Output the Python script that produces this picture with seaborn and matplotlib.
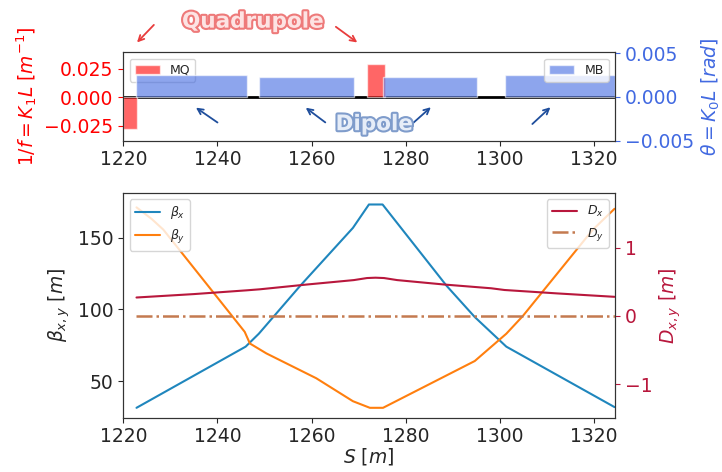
import numpy as np
import pandas as pd
import matplotlib
matplotlib.use('Agg')
import matplotlib.pyplot as plt
import matplotlib.patheffects as pe
import seaborn as sns

# magnets: start, end, strength
mq_start = [1220.0, 1271.8]
mq_end = [1223.0, 1275.6]
mq_k1l = [-0.028, 0.0294]

mb_start = [1222.6, 1248.9, 1275.2, 1301.2]
mb_end = [1246.2, 1269.0, 1295.2, 1324.4]
mb_k0l = [0.00253, 0.00223, 0.00223, 0.00253]

# twiss functions
s_bx = [1222.8, 1246.0, 1248.8, 1257.6, 1268.8, 1272.2, 1275.1, 1288.7, 1294.7, 1301.4, 1324.4]
betx = [31.4, 74.0, 83.0, 116.4, 156.7, 173.0, 173.0, 116.4, 94.6, 74.0, 31.9]

s_by = [1222.8, 1226.0, 1228.5, 1239.1, 1245.8, 1246.9, 1250.4, 1261.0, 1268.8, 1272.4, 1275.2,
        1294.7, 1301.4, 1304.9, 1319.8, 1324.4]
bety = [171.0, 163.0, 155.5, 111.9, 84.3, 76.2, 69.3, 52.0, 36.0, 31.4, 31.4,
        64.0, 83.0, 95.3, 155.5, 170.0]

s_d = [1222.8, 1235.0, 1246.2, 1249.0, 1259.0, 1269.0, 1271.8, 1273.6, 1275.4, 1278.2,
       1288.2, 1298.2, 1301.0, 1312.2, 1324.4]
dx = [0.27, 0.32, 0.375, 0.39, 0.46, 0.525, 0.555, 0.56, 0.555, 0.525,
      0.46, 0.405, 0.38, 0.33, 0.28]
dy = [0.0] * len(s_d)

sns.set_style('ticks')
plt.rcParams['font.family'] = ['DejaVu Sans']

fig = plt.figure(figsize=(7.22, 4.72), dpi=100)
fig.patch.set_facecolor('white')
ax1 = fig.add_axes([0.1708, 0.7019, 0.681, 0.1873])
ax2 = fig.add_axes([0.1708, 0.1150, 0.681, 0.4761])
fs = 13.5

# ---- top panel: magnets
ax1.plot([1220, 1324.5], [0, 0], color='k', lw=2, zorder=1)
ax1.bar(mq_start, np.array(mq_k1l), width=np.array(mq_end) - np.array(mq_start),
        align='edge', color='red', alpha=0.6, label='MQ', zorder=2)
ax1.set_xlim(1220, 1324.5)
ax1.set_ylim(-0.038, 0.0396)
ax1.set_yticks([-0.025, 0.0, 0.025])
ax1.set_xticks([1220, 1240, 1260, 1280, 1300, 1320])
ax1.tick_params(axis='y', colors='red', labelsize=fs)
ax1.tick_params(axis='x', labelsize=fs)
ax1.set_ylabel(r'$1/f=K_1L\ [m^{-1}]$', color='red', fontsize=fs)
ax1.legend(loc='upper left', fontsize=9)

ax1b = ax1.twinx()
ax1b.bar(mb_start, mb_k0l, width=np.array(mb_end) - np.array(mb_start),
         align='edge', color='royalblue', alpha=0.6, label='MB')
ax1b.set_ylim(-0.0049, 0.0051)
ax1b.set_yticks([-0.005, 0.0, 0.005])
ax1b.tick_params(axis='y', colors='royalblue', labelsize=fs)
ax1b.set_ylabel(r'$\theta=K_0L\ [rad]$', color='royalblue', fontsize=fs)
ax1b.legend(loc='upper right', fontsize=9)

# annotations
txt_q = ax1.text(1247.5, 0.0665, 'Quadrupole', ha='center', va='center', fontsize=15.5,
                 fontweight='bold', color='#fde3e3', clip_on=False)
txt_q.set_path_effects([pe.Stroke(linewidth=3, foreground='#ee7a7a'), pe.Normal()])
for tail, head in [((1226.9, 0.0654), (1222.5, 0.0465)), ((1264.7, 0.0634), (1270.2, 0.0468))]:
    ax1.annotate('', xy=head, xytext=tail, annotation_clip=False,
                 arrowprops=dict(arrowstyle='->', color='#e83c3c', lw=1.3))

txt_d = ax1.text(1273.3, -0.0235, 'Dipole', ha='center', va='center', fontsize=15.5,
                 fontweight='bold', color='#e6edf8', zorder=5)
txt_d.set_path_effects([pe.Stroke(linewidth=3, foreground='#7f9ccb'), pe.Normal()])
for tail, head in [((1240.5, -0.0234), (1234.95, -0.0076)),
                   ((1263.4, -0.0234), (1258.3, -0.0076)),
                   ((1280.9, -0.0250), (1285.8, -0.0070)),
                   ((1306.5, -0.0250), (1311.2, -0.0070))]:
    ax1.annotate('', xy=head, xytext=tail, annotation_clip=False,
                 arrowprops=dict(arrowstyle='->', color='#1f4e9c', lw=1.3))

# ---- bottom panel: optics
sns.lineplot(x=s_bx, y=betx, ax=ax2, color='#1f86bd', lw=1.5, label=r'$\beta_x$')
sns.lineplot(x=s_by, y=bety, ax=ax2, color='#ff7f0e', lw=1.5, label=r'$\beta_y$')
ax2.set_xlim(1220, 1324.5)
ax2.set_ylim(24.5, 181)
ax2.set_xticks([1220, 1240, 1260, 1280, 1300, 1320])
ax2.set_yticks([50, 100, 150])
ax2.tick_params(labelsize=fs)
ax2.set_xlabel(r'$S\ [m]$', fontsize=fs, labelpad=0)
ax2.set_ylabel(r'$\beta_{x,y}\ [m]$', fontsize=fs)
ax2.legend(loc='upper left', fontsize=9)

ax2b = ax2.twinx()
sns.lineplot(x=s_d, y=dx, ax=ax2b, color='#b8173c', lw=1.5, label=r'$D_x$')
sns.lineplot(x=s_d, y=dy, ax=ax2b, color='#c47a50', lw=1.8, linestyle='-.', label=r'$D_y$')
ax2b.set_ylim(-1.49, 1.8)
ax2b.set_yticks([-1, 0, 1])
ax2b.tick_params(axis='y', colors='#b8173c', labelsize=fs)
ax2b.set_ylabel(r'$D_{x,y}\ [m]$', color='#b8173c', fontsize=fs)
ax2b.legend(loc='upper right', fontsize=9)

for a in [ax1, ax1b, ax2, ax2b]:
    for sp in a.spines.values():
        sp.set_color('#333333')
        sp.set_visible(True)

fig.savefig('out.png', dpi=100, facecolor='white')
